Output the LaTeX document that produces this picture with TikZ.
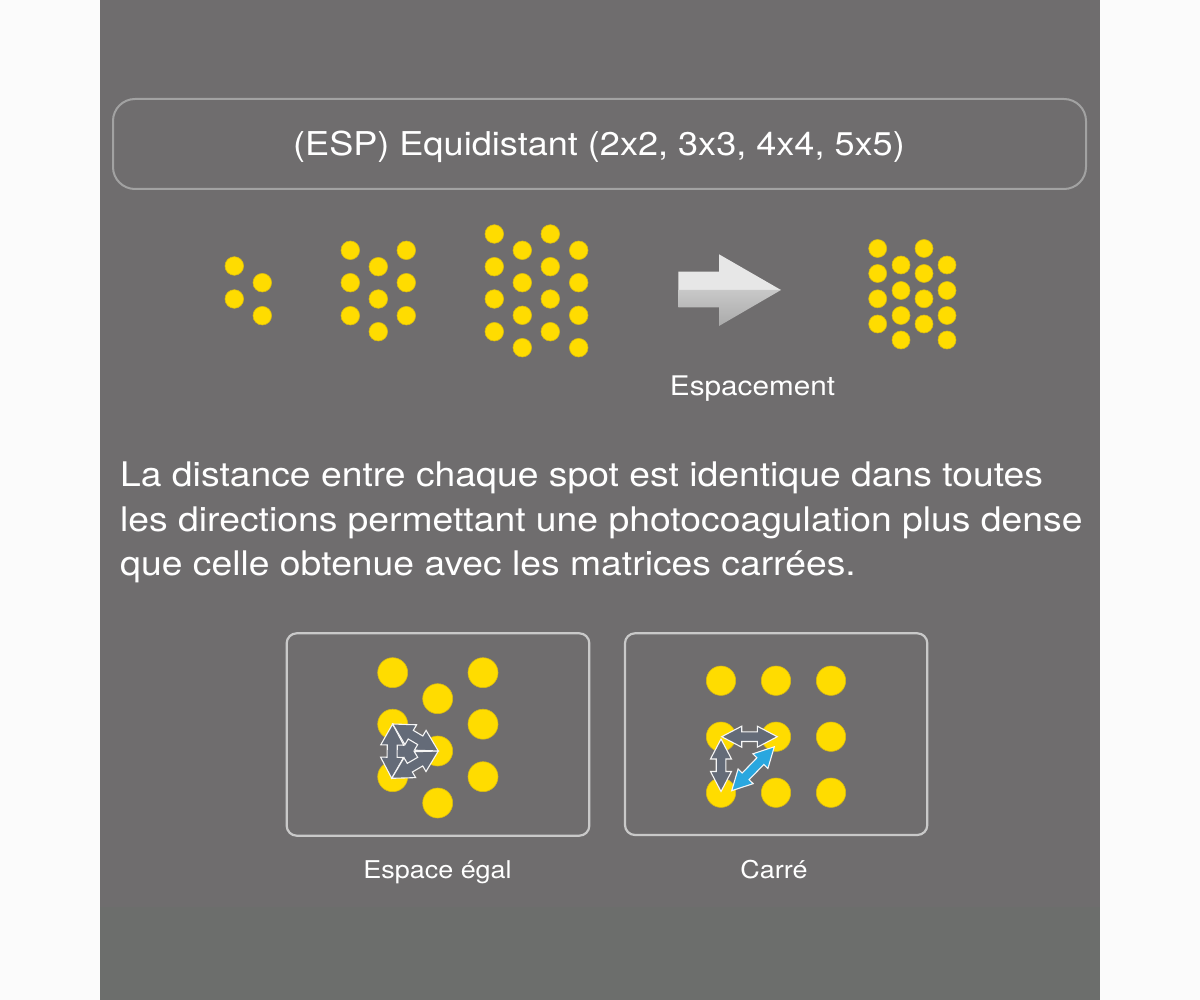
\documentclass[tikz,border=0pt]{standalone}
\usepackage{fontspec}
\setmainfont{TeX Gyre Heros}[FakeStretch=1.1]
\definecolor{bgwhite}{HTML}{FBFBFB}
\definecolor{bggray}{HTML}{6F6D6E}
\definecolor{bggray2}{HTML}{6C6E6C}
\definecolor{spot}{HTML}{FFDC00}
\definecolor{spotedge}{HTML}{D8BA12}
\definecolor{slate}{HTML}{646B78}
\definecolor{skyblue}{HTML}{2AA7DF}
\definecolor{boxline}{HTML}{A2A2A2}
\definecolor{boxline2}{HTML}{C9C9C9}
\definecolor{arrowlight}{HTML}{E7E7E7}
\definecolor{arrowdark}{HTML}{C8C8C8}
\tikzset{
  spotdot/.style={fill=spot, draw=spotedge, line width=0.6pt},
  whitetext/.style={text=white, inner sep=0pt},
  grayarrow/.style={fill=slate, draw=white!92!gray, line width=1.1pt, line join=miter},
  bluearrow/.style={fill=skyblue, draw=white!92!gray, line width=1.1pt, line join=miter},
}
\newcommand\dblarr[5]{%
  \begin{scope}[shift={(#1,#2)},rotate=#3]
    \filldraw[#5] (0,0) -- (\ahl,\ahw) -- (\ahl,\asw) -- ({#4-\ahl},\asw) -- ({#4-\ahl},\ahw) -- (#4,0)
      -- ({#4-\ahl},-\ahw) -- ({#4-\ahl},-\asw) -- (\ahl,-\asw) -- (\ahl,-\ahw) -- cycle;
  \end{scope}}
\begin{document}
\begin{tikzpicture}[x=1pt,y=-1pt]
% background
\fill[bgwhite] (0,0) rectangle (1200,1000);
\fill[bggray] (100,0) rectangle (1100,906.7);
\fill[bggray2] (100,906.7) rectangle (1100,1000);
\useasboundingbox (0,0) rectangle (1200,1000);

% title box
\draw[boxline, line width=2pt, rounded corners=22pt] (113,99) rectangle (1086,189);
\node[whitetext, anchor=base] (title) at (599,156) {\fontsize{32.8}{36}\selectfont (ESP) Equidistant (2x2, 3x3, 4x4, 5x5)};

% 2x2
\foreach \y in {266,299} \filldraw[spotdot] (234.3,\y) circle (9.3);
\foreach \y in {282.7,315.7} \filldraw[spotdot] (262.3,\y) circle (9.3);
% 3x3
\foreach \x in {350.3,406.3} \foreach \y in {250.3,282.7,315.7} \filldraw[spotdot] (\x,\y) circle (9.3);
\foreach \y in {266.7,299,331.7} \filldraw[spotdot] (378.3,\y) circle (9.3);
% 4x4
\foreach \x in {494.3,550.3} \foreach \y in {234,266.7,299,331.7} \filldraw[spotdot] (\x,\y) circle (9.3);
\foreach \x in {522.3,578.7} \foreach \y in {250.3,282.7,315.3,347.7} \filldraw[spotdot] (\x,\y) circle (9.3);

% big arrow
\fill[arrowlight] (678.3,271.7) -- (719,271.7) -- (719,254.3) -- (781,290) -- (678.3,290) -- cycle;
\shade[top color=arrowdark, bottom color=arrowdark!85!black] (678.3,290) -- (781,290) -- (719,326) -- (719,307.3) -- (678.3,307.3) -- cycle;
\node[whitetext, anchor=base] (espacement) at (752.5,395.7) {\fontsize{27}{30}\selectfont Espacement};

% compressed pattern
\foreach \x in {877.7,924} \foreach \y in {248.5,273.5,298.8,324} \filldraw[spotdot] (\x,\y) circle (9);
\foreach \x in {901,947} \foreach \y in {265,290.5,315.5,340} \filldraw[spotdot] (\x,\y) circle (9);

% paragraph
\node[whitetext, anchor=base west] (l1) at (120,486) {\fontsize{33.9}{40}\selectfont La distance entre chaque spot est identique dans toutes};
\node[whitetext, anchor=base west] (l2) at (120,531) {\fontsize{33.9}{40}\selectfont les directions permettant une photocoagulation plus dense};
\node[whitetext, anchor=base west] (l3) at (120,575) {\fontsize{33.9}{40}\selectfont que celle obtenue avec les matrices carrées.};

% left box
\draw[boxline2, line width=2.2pt, rounded corners=10pt] (286.7,633.3) rectangle (589.3,835.7);
\foreach \x in {392.7,483} \foreach \y in {672.7,724.2,776.7} \filldraw[spotdot] (\x,\y) circle (15);
\foreach \y in {698.7,751,803} \filldraw[spotdot] (437.7,\y) circle (15);
\fill[slate] (392.7,724) -- (438.3,751) -- (391.7,778.3) -- cycle;
\def\ahl{21}\def\ahw{11.5}\def\asw{5}
\dblarr{391.7}{778.3}{89}{54.3}{grayarrow}
\dblarr{438.3}{751}{-149.6}{54}{grayarrow}
\dblarr{392.7}{724}{-30.6}{53}{grayarrow}
\node[whitetext, anchor=base] (lab1) at (437.5,878.3) {\fontsize{24.5}{28}\selectfont Espace égal};

% right box
\draw[boxline2, line width=2.2pt, rounded corners=10pt] (625,633.3) rectangle (927.3,835);
\foreach \x in {721,776,831} \foreach \y in {680.7,736.7,792.7} \filldraw[spotdot] (\x,\y) circle (14.7);
\def\ahl{20}\def\ahw{10.5}\def\asw{4.8}
\dblarr{721}{739}{-90}{52.5}{grayarrow}
\dblarr{721.7}{736.7}{0}{55.6}{grayarrow}
\dblarr{731.7}{790.7}{45.9}{61.2}{bluearrow}
\node[whitetext, anchor=base] (lab2) at (774,878.3) {\fontsize{24.5}{28}\selectfont Carré};
\end{tikzpicture}
\end{document}
